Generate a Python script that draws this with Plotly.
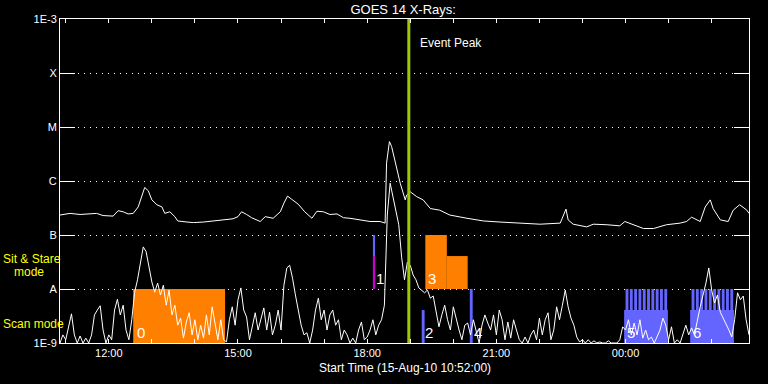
import pandas as pd
import plotly.graph_objects as go

START = pd.Timestamp("2010-08-15 10:52:00")
END = pd.Timestamp("2010-08-16 02:52:00")

# Long channel (1-8 A): minutes after start, log10 flux (W/m^2)
long_min = [0, 14, 28, 42, 51, 60, 74, 81, 88, 95,
            102, 109, 114, 118, 123, 128, 135, 142, 146, 153,
            160, 164, 177, 186, 200, 214, 228, 241, 248, 253,
            260, 267, 279, 286, 297, 307, 312, 317, 323, 332,
            341, 351, 358, 367, 376, 386, 395, 404, 418, 432,
            446, 453, 455, 459, 462, 467, 474, 481, 483, 488,
            497, 506, 516, 529, 543, 567, 590, 613, 646, 669,
            697, 701, 705, 708, 715, 734, 743, 762, 780, 787,
            799, 813, 827, 845, 864, 873, 880, 892, 899, 906,
            910, 920, 931, 938, 947, 957, 960]
long_log = [-6.63, -6.60, -6.62, -6.61, -6.60, -6.64, -6.65, -6.55, -6.57, -6.61,
            -6.60, -6.48, -6.29, -6.12, -6.18, -6.35, -6.44, -6.48, -6.60, -6.57,
            -6.66, -6.74, -6.76, -6.77, -6.76, -6.74, -6.72, -6.70, -6.66, -6.57,
            -6.62, -6.68, -6.75, -6.66, -6.69, -6.57, -6.41, -6.28, -6.34, -6.43,
            -6.57, -6.69, -6.56, -6.57, -6.62, -6.61, -6.68, -6.69, -6.72, -6.75,
            -6.75, -6.78, -5.67, -5.27, -5.36, -5.67, -6.04, -6.35, -6.26, -6.20,
            -6.29, -6.35, -6.51, -6.54, -6.63, -6.69, -6.74, -6.76, -6.78, -6.80,
            -6.78, -6.66, -6.52, -6.72, -6.80, -6.85, -6.80, -6.81, -6.83, -6.75,
            -6.81, -6.88, -6.88, -6.81, -6.78, -6.75, -6.67, -6.75, -6.48, -6.35,
            -6.51, -6.72, -6.75, -6.54, -6.44, -6.54, -6.60]

# Short channel (0.5-4 A): 4-minute cadence, log10 flux
short_step_min = 4
short_log = [
    -9.00, -8.85, -8.94, -8.67, -8.46, -8.85, -9.00, -8.87, -9.00, -8.91,
    -9.00, -8.85, -8.48, -8.39, -8.31, -8.76, -9.00, -8.85, -8.94, -8.39,
    -8.19, -8.48, -8.30, -8.76, -8.94, -8.57, -8.06, -7.83, -7.50, -7.22,
    -7.31, -7.61, -7.87, -8.06, -7.89, -8.11, -7.93, -8.30, -8.02, -8.48,
    -8.30, -8.67, -8.54, -8.91, -8.61, -8.44, -8.85, -8.57, -8.94, -8.67,
    -8.91, -8.48, -8.85, -8.33, -8.67, -8.94, -8.57, -8.94, -8.98, -8.57,
    -8.33, -8.67, -8.20, -7.98, -8.39, -8.52, -8.94, -8.67, -8.44, -8.76,
    -8.57, -8.35, -8.76, -8.43, -8.85, -8.67, -8.39, -8.76, -7.93, -7.61,
    -7.56, -7.80, -8.11, -8.39, -8.67, -8.85, -8.81, -9.00, -8.76, -8.39,
    -8.17, -8.57, -8.39, -8.76, -8.48, -8.39, -8.67, -8.57, -8.94, -8.76,
    -8.85, -9.00, -8.91, -9.00, -8.76, -8.61, -8.94, -8.89, -8.76, -8.57,
    -8.85, -8.67, -8.57, -8.30, -6.63, -6.04, -6.30, -6.54, -6.81, -7.41,
    -7.83, -7.50, -7.56, -7.74, -7.83, -7.98, -8.02, -8.07, -8.02, -8.17,
    -8.13, -8.39, -8.70, -8.48, -8.30, -8.57, -8.76, -8.33, -8.57, -8.76,
    -8.94, -8.67, -8.63, -8.85, -8.57, -8.81, -9.00, -8.67, -8.48, -8.63,
    -8.76, -8.48, -8.85, -8.39, -8.57, -8.94, -8.61, -8.91, -8.57, -8.76,
    -8.94, -9.00, -8.89, -9.00, -8.85, -8.76, -8.94, -8.54, -8.85, -8.57,
    -8.44, -8.94, -8.76, -8.33, -8.57, -8.30, -8.02, -8.33, -8.54, -8.67,
    -8.89, -8.98, -8.94, -9.00, -8.94, -9.00, -8.96, -9.00, -8.98, -9.00,
    -9.00, -8.96, -9.00, -9.00, -9.00, -8.94, -8.70, -8.76, -8.57, -8.85,
    -8.63, -8.85, -8.57, -8.91, -8.76, -8.94, -8.89, -9.00, -8.89, -8.76,
    -8.54, -8.67, -8.94, -8.70, -9.00, -8.94, -9.00, -8.85, -8.67, -8.85,
    -8.72, -8.85, -8.57, -8.33, -8.11, -7.89, -7.61, -8.02, -8.26, -8.11,
    -8.43, -8.54, -8.63, -8.76, -8.89, -8.57, -8.07, -8.20, -8.13, -8.57, -8.85]

# Observation blocks: start/end (minutes after start), log10 low/high, colour
obs_start = [102, 436, 504, 509, 539, 571, 786, 878]
obs_end = [230, 439, 508, 539, 568, 575, 847, 939]
obs_low = [-9, -8, -9, -8, -8, -9, -9, -9]
obs_high = [-8, -7, -8.39, -7, -7.39, -8, -8.39, -8.39]
obs_color = ["#ff8000", "#6464ff", "#6464ff", "#ff8000", "#ff8000",
             "#6464ff", "#6464ff", "#6464ff"]
# Magenta overlay on block 1
mag_start, mag_end, mag_low, mag_high = 436, 439, -8, -7.39
# Striped upper parts of blocks 5 and 6 (start minutes, 4-min duration)
stripe_start = [788, 794, 800, 806, 812, 818, 824, 830, 836, 842,
                880, 886, 892, 898, 904, 910, 916, 922, 928, 934]
stripe_dur = 4
stripe_low, stripe_high = -8.39, -8.0

# Block labels
label_text = ["0", "1", "2", "3", "4", "5", "6"]
label_min = [105, 438, 506, 510, 574, 787, 879]
label_log = [-8.81, -7.81, -8.81, -7.81, -8.81, -8.81, -8.81]

event_peak_min = 486

level_vals = [-9, -8, -7, -6, -5, -4, -3]
level_text = ["1E-9", "A", "B", "C", "M", "X", "1E-3"]

FONT = "Liberation Sans"


def t(m):
    return START + pd.Timedelta(minutes=m)


fig = go.Figure()


def add_rect(m0, m1, lo, hi, color):
    fig.add_trace(go.Scatter(
        x=[t(m0), t(m1), t(m1), t(m0), t(m0)],
        y=[10 ** lo, 10 ** lo, 10 ** hi, 10 ** hi, 10 ** lo],
        mode="none", fill="toself", fillcolor=color,
        hoverinfo="skip", showlegend=False))


for s, e, lo, hi, c in zip(obs_start, obs_end, obs_low, obs_high, obs_color):
    add_rect(s, e, lo, hi, c)
add_rect(mag_start, mag_end, mag_low, mag_high, "#c800c8")
for s in stripe_start:
    add_rect(s, s + stripe_dur, stripe_low, stripe_high, "#6464ff")

# curves
fig.add_trace(go.Scatter(
    x=[t(m) for m in long_min], y=[10 ** v for v in long_log],
    mode="lines", line=dict(color="white", width=1), showlegend=False))
fig.add_trace(go.Scatter(
    x=[t(i * short_step_min) for i in range(len(short_log))],
    y=[10 ** v for v in short_log],
    mode="lines", line=dict(color="white", width=1), showlegend=False))

# event peak line
fig.add_trace(go.Scatter(
    x=[t(event_peak_min), t(event_peak_min)], y=[1e-9, 1e-3],
    mode="lines", line=dict(color="#a0c800", width=3), showlegend=False))

hour_vals = pd.date_range("2010-08-15 11:00", "2010-08-16 02:00", freq="h")
hour_text = [h.strftime("%H:%M") if h.hour % 3 == 0 else "" for h in hour_vals]

fig.update_xaxes(
    range=[START, END], tickvals=list(hour_vals), ticktext=hour_text,
    ticks="inside", ticklen=4, tickcolor="white", showline=True,
    linecolor="white", linewidth=1, mirror="ticks", showgrid=False,
    zeroline=False, tickfont=dict(family=FONT, size=11, color="white"))
fig.update_yaxes(
    type="log", range=[-9, -3], tickvals=[10 ** v for v in level_vals],
    ticktext=level_text, ticks="inside", ticklen=15, tickcolor="white",
    showline=True, linecolor="white", linewidth=1, mirror="ticks",
    showgrid=True, gridcolor="white", gridwidth=1, griddash="1px,5px",
    zeroline=False, tickfont=dict(family=FONT, size=11, color="white"))

ann = []
for txt, m, lv in zip(label_text, label_min, label_log):
    ann.append(dict(x=t(m), y=lv, xref="x", yref="y", text=txt,
                    showarrow=False, xanchor="left", yanchor="middle",
                    font=dict(family=FONT, size=15, color="white")))
ann += [
    dict(x=(418 - 60) / 689, y=(343 - 43) / 324, xref="paper", yref="paper",
         text="Event Peak", showarrow=False, xanchor="left", yanchor="middle",
         font=dict(family=FONT, size=12, color="white")),
    dict(x=0.5, y=-(368 - 343) / 324, xref="paper", yref="paper",
         text="Start Time (15-Aug-10 10:52:00)", showarrow=False,
         xanchor="center", yanchor="middle",
         font=dict(family=FONT, size=12, color="white")),
    dict(x=(1 - 60) / 689, y=(343 - 259) / 324, xref="paper", yref="paper",
         text="Sit & Stare", showarrow=False, xanchor="left", yanchor="middle",
         font=dict(family=FONT, size=12, color="#ffff00")),
    dict(x=(12 - 60) / 689, y=(343 - 272) / 324, xref="paper", yref="paper",
         text="mode", showarrow=False, xanchor="left", yanchor="middle",
         font=dict(family=FONT, size=12, color="#ffff00")),
    dict(x=(1 - 60) / 689, y=(343 - 324) / 324, xref="paper", yref="paper",
         text="Scan mode", showarrow=False, xanchor="left", yanchor="middle",
         font=dict(family=FONT, size=12, color="#ffff00")),
]

fig.update_layout(
    width=768, height=384,
    margin=dict(l=60, r=19, t=19, b=41),
    paper_bgcolor="black", plot_bgcolor="black",
    title=dict(text="GOES 14 X-Rays:", x=0.525, xanchor="center",
               y=1 - 9 / 384, yanchor="middle", yref="container",
               font=dict(family=FONT, size=13, color="white")),
    annotations=ann, showlegend=False)

fig.write_html(
    "out.html",
    config={"displayModeBar": False},
    post_script="document.body.style.margin='0px';"
                "document.body.style.background='black';")
